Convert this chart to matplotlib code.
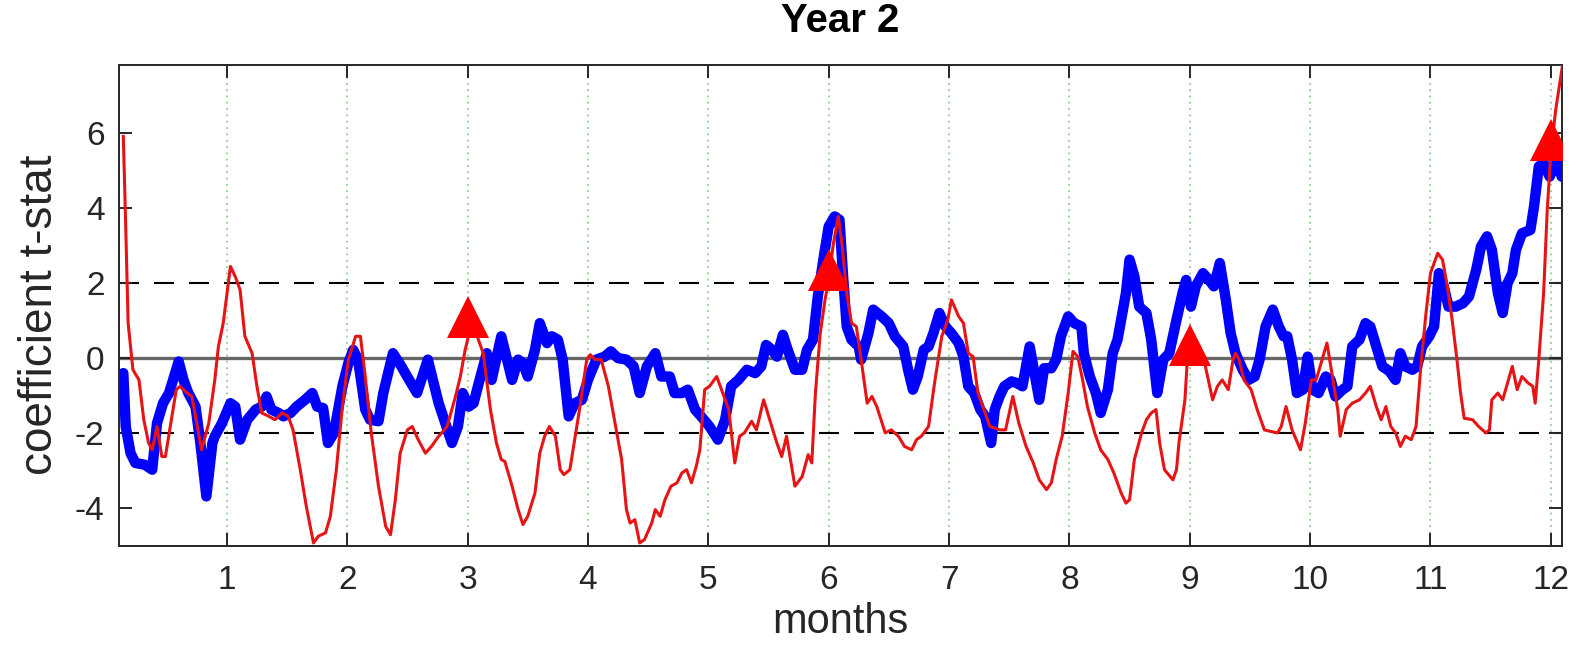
import numpy as np
import matplotlib
matplotlib.use("Agg")
import matplotlib.pyplot as plt

# t-stat series over the second year, x in months
months_blue = [0.14, 0.16, 0.20, 0.24, 0.32, 0.38, 0.42, 0.47, 0.52, 0.60, 0.64, 0.68, 0.74, 0.78, 0.83,
               0.88, 0.90, 0.96, 1.03, 1.07, 1.11, 1.17, 1.24, 1.29, 1.33, 1.37, 1.43, 1.47, 1.53, 1.58,
               1.65, 1.71, 1.75, 1.80, 1.84, 1.89, 1.96, 2.01, 2.05, 2.09, 2.15, 2.19, 2.26, 2.30, 2.38,
               2.45, 2.50, 2.58, 2.67, 2.76, 2.87, 2.92, 2.96, 3.01, 3.05, 3.10, 3.16, 3.20, 3.28, 3.37,
               3.42, 3.46, 3.50, 3.56, 3.60, 3.66, 3.70, 3.75, 3.79, 3.84, 3.89, 3.95, 4.00, 4.07, 4.14,
               4.19, 4.25, 4.32, 4.38, 4.43, 4.49, 4.56, 4.61, 4.68, 4.72, 4.78, 4.83, 4.89, 4.94, 5.01,
               5.08, 5.14, 5.19, 5.25, 5.32, 5.39, 5.44, 5.48, 5.53, 5.57, 5.62, 5.66, 5.72, 5.78, 5.82,
               5.87, 5.91, 5.96, 6.00, 6.05, 6.09, 6.12, 6.15, 6.19, 6.25, 6.27, 6.33, 6.37, 6.44, 6.50,
               6.55, 6.62, 6.66, 6.70, 6.74, 6.79, 6.83, 6.87, 6.92, 6.97, 7.02, 7.08, 7.12, 7.16, 7.21,
               7.26, 7.30, 7.35, 7.38, 7.42, 7.46, 7.52, 7.56, 7.61, 7.67, 7.71, 7.75, 7.79, 7.85, 7.89,
               7.93, 7.99, 8.04, 8.10, 8.12, 8.17, 8.22, 8.26, 8.32, 8.36, 8.40, 8.44, 8.47, 8.50, 8.54,
               8.58, 8.64, 8.68, 8.73, 8.78, 8.83, 8.89, 8.94, 8.97, 9.01, 9.05, 9.11, 9.16, 9.20, 9.25,
               9.30, 9.34, 9.38, 9.44, 9.49, 9.54, 9.58, 9.63, 9.69, 9.74, 9.78, 9.81, 9.85, 9.89, 9.94,
               9.98, 10.02, 10.07, 10.13, 10.17, 10.21, 10.27, 10.31, 10.35, 10.41, 10.46, 10.50, 10.55,
               10.60, 10.66, 10.71, 10.75, 10.79, 10.85, 10.89, 10.93, 10.99, 11.03, 11.07, 11.11, 11.15,
               11.21, 11.27, 11.32, 11.38, 11.42, 11.47, 11.51, 11.56, 11.60, 11.64, 11.68, 11.71, 11.76,
               11.83, 11.86, 11.90, 11.94, 11.99, 12.03, 12.05, 12.09]
tstat_blue = [-0.40, -1.82, -2.53, -2.79, -2.84, -2.97, -1.73, -1.20, -0.93, -0.09, -0.58, -0.93, -1.29,
              -2.26, -3.68, -2.26, -2.08, -1.73, -1.20, -1.29, -2.17, -1.64, -1.37, -1.29, -1.02, -1.37,
              -1.46, -1.55, -1.46, -1.29, -1.11, -0.93, -1.29, -1.33, -2.26, -1.99, -0.75, -0.13, 0.22,
              -0.04, -1.37, -1.64, -1.68, -0.93, 0.13, -0.22, -0.50, -0.93, -0.04, -1.20, -2.26, -1.82,
              -0.93, -1.29, -1.20, -0.58, 0.13, -0.58, 0.58, -0.58, -0.04, -0.13, -0.49, 0.22, 0.93,
              0.40, 0.58, 0.49, -0.04, -1.55, -1.20, -1.11, -0.58, -0.04, 0.04, 0.18, 0.00, -0.04, -0.22,
              -0.93, -0.22, 0.13, -0.49, -0.49, -0.93, -0.93, -0.84, -1.37, -1.55, -1.82, -2.17, -1.64,
              -0.75, -0.58, -0.31, -0.40, -0.22, 0.35, 0.22, 0.04, 0.62, 0.22, -0.31, -0.31, 0.22, 0.49,
              1.64, 2.70, 3.50, 3.77, 3.68, 2.17, 0.84, 0.49, 0.31, -0.04, 0.66, 1.29, 1.11, 0.93, 0.58,
              0.31, -0.31, -0.84, -0.49, 0.22, 0.31, 0.66, 1.20, 0.84, 0.66, 0.40, 0.04, -0.75, -0.93,
              -1.37, -1.55, -2.26, -1.37, -1.02, -0.75, -0.62, -0.66, -0.75, 0.31, -0.40, -1.11, -0.27,
              -0.27, -0.04, 0.58, 1.11, 0.93, 0.84, 0.13, -0.49, -0.93, -1.46, -0.84, 0.13, 0.49, 1.20,
              1.73, 2.62, 2.17, 1.37, 1.20, 0.49, -0.93, -0.04, 0.13, 1.02, 1.73, 2.08, 1.37, 1.91, 2.26,
              2.08, 1.91, 2.53, 1.55, 0.66, 0.13, -0.31, -0.58, -0.49, -0.04, 0.84, 1.29, 0.84, 0.58,
              0.58, -0.04, -0.93, -0.84, 0.04, -0.84, -0.93, -0.49, -0.58, -1.02, -0.84, -0.75, 0.31,
              0.49, 0.93, 0.84, 0.31, -0.22, -0.35, -0.58, 0.13, -0.22, -0.31, -0.22, 0.31, 0.58, 0.84,
              2.26, 1.91, 1.37, 1.37, 1.46, 1.64, 2.35, 2.97, 3.24, 2.88, 1.73, 1.20, 1.99, 2.26, 2.88,
              3.32, 3.41, 4.03, 5.10, 5.19, 4.83, 5.10, 5.36, 4.83]

months_red = [0.14, 0.16, 0.18, 0.22, 0.27, 0.31, 0.35, 0.38, 0.42, 0.46, 0.49, 0.53, 0.58, 0.61, 0.67,
              0.71, 0.75, 0.79, 0.85, 0.90, 0.93, 0.97, 1.03, 1.07, 1.11, 1.15, 1.21, 1.25, 1.29, 1.35,
              1.40, 1.46, 1.51, 1.55, 1.61, 1.66, 1.72, 1.76, 1.82, 1.86, 1.91, 1.96, 2.01, 2.07, 2.11,
              2.15, 2.20, 2.26, 2.32, 2.36, 2.40, 2.44, 2.50, 2.54, 2.59, 2.65, 2.70, 2.76, 2.83, 2.90,
              2.94, 2.98, 3.02, 3.08, 3.13, 3.19, 3.24, 3.28, 3.31, 3.37, 3.42, 3.46, 3.50, 3.56, 3.60,
              3.64, 3.68, 3.73, 3.77, 3.80, 3.85, 3.89, 3.93, 3.99, 4.02, 4.06, 4.11, 4.17, 4.22, 4.28,
              4.32, 4.35, 4.39, 4.43, 4.47, 4.53, 4.56, 4.60, 4.64, 4.69, 4.74, 4.78, 4.82, 4.86, 4.90,
              4.93, 4.97, 5.01, 5.07, 5.11, 5.17, 5.22, 5.26, 5.30, 5.36, 5.40, 5.46, 5.51, 5.57, 5.61,
              5.65, 5.72, 5.78, 5.83, 5.86, 5.89, 5.93, 5.97, 6.00, 6.04, 6.08, 6.11, 6.15, 6.19, 6.23,
              6.27, 6.32, 6.36, 6.40, 6.47, 6.52, 6.58, 6.63, 6.69, 6.73, 6.77, 6.83, 6.88, 6.94, 6.99,
              7.02, 7.08, 7.12, 7.16, 7.20, 7.24, 7.30, 7.34, 7.38, 7.42, 7.47, 7.53, 7.58, 7.64, 7.70,
              7.75, 7.81, 7.85, 7.89, 7.94, 7.99, 8.03, 8.07, 8.11, 8.15, 8.21, 8.26, 8.32, 8.37, 8.43,
              8.47, 8.50, 8.54, 8.60, 8.64, 8.68, 8.72, 8.75, 8.79, 8.86, 8.89, 8.91, 8.96, 8.98, 9.02,
              9.08, 9.13, 9.19, 9.23, 9.27, 9.32, 9.36, 9.38, 9.41, 9.45, 9.51, 9.56, 9.62, 9.67, 9.73,
              9.76, 9.80, 9.85, 9.92, 9.96, 10.01, 10.05, 10.10, 10.14, 10.19, 10.23, 10.25, 10.30,
              10.35, 10.41, 10.46, 10.50, 10.55, 10.59, 10.63, 10.67, 10.71, 10.75, 10.79, 10.84, 10.88,
              10.92, 10.96, 11.00, 11.06, 11.10, 11.14, 11.18, 11.22, 11.25, 11.28, 11.35, 11.40, 11.46,
              11.49, 11.51, 11.56, 11.60, 11.64, 11.68, 11.72, 11.76, 11.81, 11.85, 11.87, 11.90, 11.94,
              11.97, 12.00, 12.04, 12.10]
tstat_red = [5.90, 3.50, 0.93, -0.31, -0.58, -1.64, -2.26, -2.44, -1.82, -2.62, -2.62, -1.82, -0.84,
             -0.75, -0.93, -1.02, -1.73, -2.44, -1.73, -0.58, 0.31, 0.93, 2.44, 2.17, 1.82, 0.58, 0.13,
             -0.75, -1.46, -1.55, -1.64, -1.46, -1.55, -1.91, -2.97, -3.94, -4.92, -4.74, -4.65, -4.21,
             -2.97, -1.29, -0.04, 0.58, 0.58, -0.49, -1.99, -3.41, -4.48, -4.70, -3.77, -2.53, -1.91,
             -1.82, -2.17, -2.53, -2.35, -2.08, -1.82, -1.02, -0.49, 0.22, 0.75, 0.58, 0.13, -1.37,
             -2.26, -2.70, -2.75, -3.41, -4.03, -4.43, -4.21, -3.59, -2.53, -2.08, -1.82, -2.08, -2.97,
             -3.10, -2.97, -2.17, -1.37, -0.04, 0.09, -0.04, -0.04, -0.75, -1.64, -2.70, -4.03, -4.39,
             -4.30, -4.92, -4.83, -4.39, -4.03, -4.21, -3.77, -3.41, -3.32, -3.06, -2.97, -3.32, -2.88,
             -2.44, -0.84, -0.75, -0.49, -0.84, -1.37, -2.79, -2.08, -1.99, -1.68, -1.91, -1.11, -1.64,
             -2.26, -2.62, -2.08, -3.41, -3.15, -2.57, -2.79, -0.93, 0.66, 1.55, 2.08, 3.06, 3.77, 3.06,
             1.73, 0.93, 0.84, -0.04, -1.20, -1.02, -1.29, -1.99, -1.91, -2.08, -2.35, -2.44, -2.17,
             -2.08, -1.82, -0.66, 0.58, 1.02, 1.55, 1.11, 0.93, 0.13, 0.04, -0.93, -1.46, -1.82, -1.86,
             -1.91, -1.91, -1.02, -1.73, -2.35, -2.79, -3.24, -3.50, -3.32, -2.70, -2.08, -0.93, 0.18,
             0.04, -0.58, -1.29, -1.99, -2.44, -2.70, -3.06, -3.59, -3.86, -3.77, -2.70, -1.99, -1.64,
             -1.46, -1.37, -2.26, -2.97, -3.24, -2.97, -2.26, -1.11, -0.04, 0.40, 0.31, -0.22, -1.11,
             -0.75, -0.58, -0.84, -0.04, 0.13, -0.04, -0.58, -0.84, -1.37, -1.91, -1.95, -1.99, -1.82,
             -1.29, -1.91, -2.44, -1.73, -0.58, -0.58, -0.04, 0.40, -0.58, -1.37, -2.08, -1.37, -1.20,
             -1.11, -0.93, -0.75, -1.29, -1.64, -1.29, -1.82, -1.99, -2.35, -2.08, -2.17, -1.82, -0.22,
             1.11, 2.26, 2.79, 2.62, 1.91, 1.02, -0.04, -0.93, -1.60, -1.64, -1.82, -1.99, -1.91, -1.11,
             -0.93, -1.11, -0.66, -0.22, -0.84, -0.49, -0.66, -0.75, -1.20, -0.04, 1.73, 3.94, 5.45,
             6.60, 7.85]

# quarter-end markers
quarter_months = [3, 6, 9, 12]
quarter_tstat = [1.10, 2.35, 0.35, 5.80]

month_ticks = list(range(1, 13))
tstat_ticks = [-4, -2, 0, 2, 4, 6]

plt.rcParams['font.family'] = ['Liberation Sans', 'DejaVu Sans']
plt.rcParams['axes.unicode_minus'] = False
axis_grey = (0.15, 0.15, 0.15)

fig = plt.figure(figsize=(15.8, 6.66), dpi=100)
ax = fig.add_axes([0.075, 0.1802, 0.9134, 0.7222])

# month grid, significance bands and zero line
for m in month_ticks:
    ax.axvline(m, color='#8fcf8f', linestyle=(0, (1, 2.5)), linewidth=1.3, zorder=1)
for level in (2, -2):
    ax.axhline(level, color='black', linewidth=1.5, dashes=(9.6, 7.2), zorder=1)
ax.axhline(0, color='#666666', linewidth=2.4, zorder=1)

ax.plot(months_blue, tstat_blue, color=(0, 0, 1), linewidth=7.5, solid_joinstyle='round',
        solid_capstyle='round', zorder=2)
ax.plot(months_red, tstat_red, color=(0.9, 0.08, 0.08), linewidth=2.2, zorder=3)
ax.plot(quarter_months, quarter_tstat, linestyle='none', marker='^', markersize=30,
        color=(1, 0, 0), markeredgewidth=0, zorder=4)

ax.set_xlim(0.1, 12.09)
ax.set_ylim(-5, 7.8)
ax.set_xticks(month_ticks)
ax.set_yticks(tstat_ticks)
ax.tick_params(direction='in', length=9.5, width=1.4, color=axis_grey, labelcolor=axis_grey,
               labelsize=24, top=True, right=True)
ax.tick_params(axis='x', pad=14)
ax.tick_params(axis='y', pad=10)
for spine in ax.spines.values():
    spine.set_color(axis_grey)
    spine.set_linewidth(1.4)

ax.set_xlabel('months', fontsize=30, color=axis_grey, labelpad=4)
ax.set_ylabel('coefficient t-stat', fontsize=33, color=axis_grey)
ax.yaxis.set_label_coords(-0.039, 0.48)
ax.set_title('Year 2', fontsize=29, fontweight='bold', pad=24)

fig.savefig('out.png', dpi=100)
